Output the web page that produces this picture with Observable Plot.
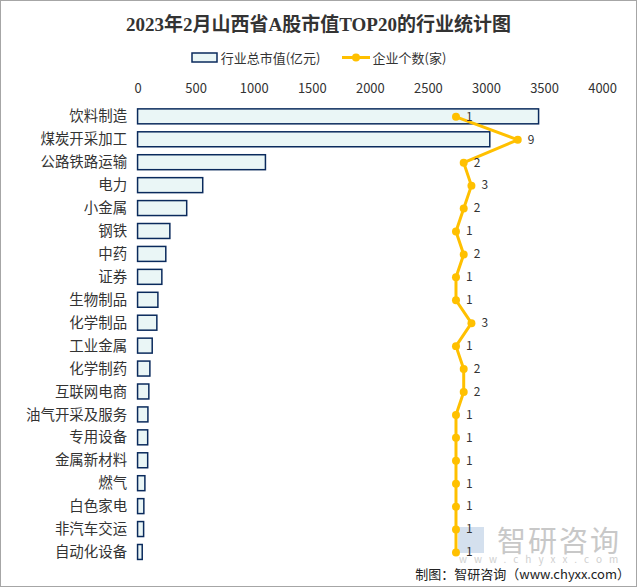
<!DOCTYPE html>
<html><head><meta charset="utf-8">
<script src="https://cdn.jsdelivr.net/npm/d3@7"></script>
<script src="https://cdn.jsdelivr.net/npm/@observablehq/plot@0.6"></script>
<style>
body{margin:0;background:#fff;}
#wrap{position:relative;width:635px;height:585px;border:1px solid #a6a6a6;background:#fff;font-family:"Noto Sans CJK SC","Noto Sans",sans-serif;overflow:hidden;}
#title{position:absolute;left:0;top:8px;width:635px;text-align:center;font-family:"Liberation Serif","Noto Sans CJK SC",serif;font-weight:bold;font-size:19px;color:#333;}
#legend{position:absolute;top:47px;left:0;width:635px;display:flex;justify-content:center;align-items:center;font-size:13px;color:#333;}
#legend .item{display:flex;align-items:center;margin:0 10px;}
#chart{position:absolute;left:0;top:69px;line-height:0;}
#chart svg{display:block;}
#foot{position:absolute;right:6px;top:564px;font-size:13px;line-height:18px;color:#222;}
#wm{position:absolute;left:496px;top:520px;color:#c8c8c8;font-size:29px;line-height:36px;letter-spacing:2px;}
#wm2{position:absolute;left:458px;top:552px;color:#d0d0d0;font-size:10px;line-height:12px;letter-spacing:7px;}
#logo{position:absolute;left:457px;top:526px;width:26px;height:26px;background:#c9d8ea;opacity:0.8;}
</style></head>
<body>
<div id="wrap">
<div id="title">2023年2月山西省A股市值TOP20的行业统计图</div>
<div id="legend">
 <div class="item"><svg width="28" height="11"><rect x="1" y="1" width="25" height="9" fill="#eaf6f6" stroke="#0a2a5c" stroke-width="1.5"/></svg><span style="margin-left:2px">行业总市值(亿元)</span></div>
 <div class="item"><svg width="30" height="11"><line x1="1" y1="5.5" x2="29" y2="5.5" stroke="#ffc000" stroke-width="3"/><circle cx="15" cy="5.5" r="4" fill="#ffc000"/></svg><span style="margin-left:2px">企业个数(家)</span></div>
</div>
<div id="logo"></div>
<div id="wm">智研咨询</div>
<div id="wm2">www.chyxx.com</div>
<div id="chart"></div>
<div id="foot">制图：智研咨询（www.chyxx.com）</div>
</div>
<script>
const industries = ["饮料制造","煤炭开采加工","公路铁路运输","电力","小金属","钢铁","中药","证券","生物制品","化学制品","工业金属","化学制药","互联网电商","油气开采及服务","专用设备","金属新材料","燃气","白色家电","非汽车交运","自动化设备"];
const marketValue = [3453,3033,1101,561,423,278,243,209,175,166,126,106,97,89,87,87,63,54,52,40];
const companyCount = [1,9,2,3,2,1,2,1,1,3,1,2,2,1,1,1,1,1,1,1];
const xTicks = [0,500,1000,1500,2000,2500,3000,3500,4000];

// secondary (hidden) axis for counts, expressed in the primary axis units
const countOrigin = 2671, countUnit = 66.5;
const rows = industries.map((name,i)=>({name, value: marketValue[i], count: companyCount[i], cx: countOrigin + companyCount[i]*countUnit}));

const chart = Plot.plot({
  width: 637, height: 500,
  marginLeft: 137, marginRight: 34, marginTop: 35, marginBottom: 5,
  style: {fontFamily: '"Noto Sans CJK SC","Noto Sans",sans-serif', fontSize: "13px", color: "#333", background: "transparent"},
  x: {domain: [0,4000], axis: "top", ticks: xTicks, tickSize: 0, tickPadding: 12, label: null, tickFormat: d=>String(d)},
  y: {domain: industries, padding: 0, axis: null},
  marks: [
    Plot.axisY({tickSize: 0, tickPadding: 11, fontSize: 14.5, label: null}),
    Plot.barX(rows, {y: "name", x: "value", fill: "#eaf6f6", stroke: "#0a2a5c", strokeWidth: 1.5, insetTop: 4, insetBottom: 4}),
    Plot.line(rows, {y: "name", x: "cx", stroke: "#ffc000", strokeWidth: 3, curve: "linear"}),
    Plot.dot(rows, {y: "name", x: "cx", r: 4, fill: "#ffc000"}),
    Plot.text(rows, {y: "name", x: "cx", text: d=>String(d.count), dx: 10, textAnchor: "start", fill: "#333", fontSize: 12})
  ]
});
document.getElementById("chart").appendChild(chart);
</script>
</body></html>
